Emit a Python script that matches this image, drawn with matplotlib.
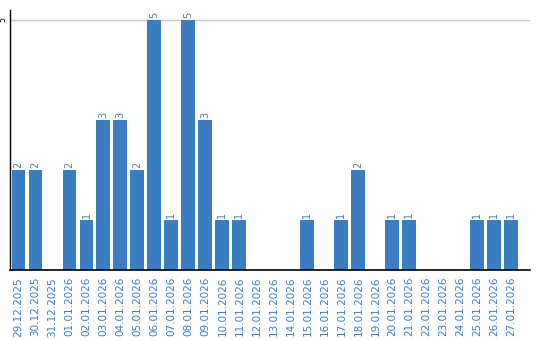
import matplotlib
matplotlib.use("Agg")
import matplotlib.pyplot as plt

# data
dates = ['29.12.2025', '30.12.2025', '31.12.2025'] + ['%02d.01.2026' % d for d in range(1, 28)]
counts = [2, 2, 0, 2, 1, 3, 3, 2, 5, 1, 5, 3, 1, 1, 0, 0, 0, 1, 0, 1, 2, 0, 1, 1, 0, 0, 0, 1, 1, 1]

blue = '#3b7dc1'

fig = plt.figure(figsize=(5.4, 3.4), dpi=100)
ax = fig.add_axes([10/540, 1-270/340, 520/540, 260/340])

x = list(range(len(dates)))
bars = ax.bar(x, counts, width=0.82, color=blue, zorder=2)
for xi, c in zip(x, counts):
    if c > 0:
        ax.text(xi, c + 0.04, str(c), rotation=90, ha='center', va='bottom',
                fontsize=7, color=blue)

ax.set_xlim(-0.5, 30.1)
ax.set_ylim(0, 5.2)
ax.set_yticks([5])
ax.set_yticklabels(['5'], rotation=90, fontsize=5.5, va='center', ha='center')
ax.axhline(5, color='#c8c8c8', linewidth=1, zorder=1)

ax.set_xticks(x)
ax.set_xticklabels(dates, rotation=90, fontsize=7.5, color=blue)
ax.tick_params(axis='x', length=0, pad=5)
ax.tick_params(axis='y', length=0, pad=5)

for s in ['top', 'right']:
    ax.spines[s].set_visible(False)
ax.spines['left'].set_linewidth(1)
ax.spines['bottom'].set_linewidth(1.2)

fig.savefig('out.png', dpi=100)
